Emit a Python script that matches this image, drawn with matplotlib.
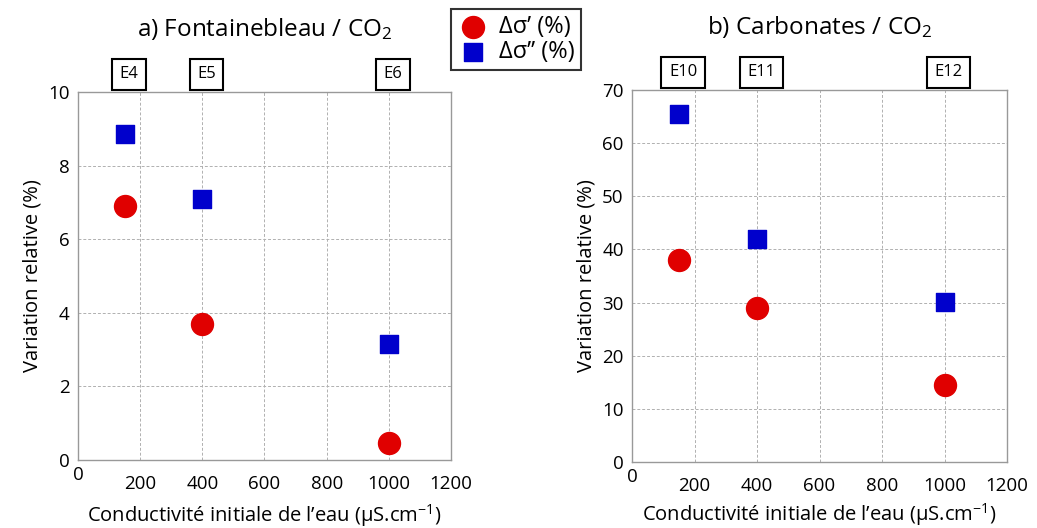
import matplotlib
matplotlib.use("Agg")
import matplotlib.pyplot as plt
import matplotlib.transforms as mtransforms

plt.rcParams['font.family'] = ['Open Sans', 'DejaVu Sans']
plt.rcParams['mathtext.fontset'] = 'custom'
plt.rcParams['mathtext.rm'] = 'Open Sans'
plt.rcParams['mathtext.it'] = 'Open Sans:italic'

# données
conductivite = [150, 400, 1000]
font_dsig1 = [6.9, 3.7, 0.45]
font_dsig2 = [8.85, 7.1, 3.15]
carb_dsig1 = [38.0, 29.0, 14.4]
carb_dsig2 = [65.5, 42.0, 30.2]
font_labels = ["E4", "E5", "E6"]
carb_labels = ["E10", "E11", "E12"]

red = '#E00000'
blue = '#0000CC'
grid_c = '#b0b0b0'

fig = plt.figure(figsize=(10.37, 5.28), dpi=100)
ax1 = fig.add_axes([0.0752, 0.1288, 0.3597, 0.697])
ax2 = fig.add_axes([0.6095, 0.125, 0.3616, 0.7045])


def style_axis(ax, ymax, ystep, title, labels, xpad):
    ax.set_xlim(0, 1200)
    ax.set_ylim(0, ymax)
    ax.set_xticks(range(0, 1201, 200))
    ax.set_xticklabels([''] + [str(v) for v in range(200, 1201, 200)])
    ax.set_yticks(range(0, ymax + 1, ystep))
    ax.tick_params(length=0, labelsize=13.5, pad=6)
    ax.tick_params(axis='x', pad=11)
    ax.grid(True, color=grid_c, linestyle=(0, (3, 2)), linewidth=0.7)
    ax.set_axisbelow(True)
    for s in ax.spines.values():
        s.set_color('#999999')
        s.set_linewidth(1.0)
    ax.set_xlabel("Conductivité initiale de l’eau (µS.cm$^{-1}$)", fontsize=14.5, labelpad=xpad)
    ax.set_ylabel("Variation relative (%)", fontsize=14.5, labelpad=4)
    ax.set_title(title, fontsize=17.5, pad=40)
    # "0" de l'axe x décalé comme sur l'original
    ax.annotate('0', xy=(0, 0), xycoords='axes fraction', xytext=(0, -4),
                textcoords='offset points', ha='center', va='top', fontsize=13.5)
    trans = mtransforms.blended_transform_factory(ax.transData, ax.transAxes)
    for x, lab in zip(conductivite, labels):
        ax.annotate(lab, xy=(x, 1.0), xycoords=trans, xytext=(3, 7),
                    textcoords='offset points', ha='center', va='bottom',
                    fontsize=12, annotation_clip=False,
                    bbox=dict(boxstyle='square,pad=0.45', fc='white', ec='black', lw=1.5))


style_axis(ax1, 10, 2, "a) Fontainebleau / CO$_2$", font_labels, 6)
style_axis(ax2, 70, 10, "b) Carbonates / CO$_2$", carb_labels, 4)

ax1.scatter(conductivite, font_dsig1, s=250, marker='o', color=red, zorder=3, clip_on=False)
ax1.scatter(conductivite, font_dsig2, s=150, marker='s', color=blue, zorder=3, clip_on=False)
h1 = ax2.scatter(conductivite, carb_dsig1, s=250, marker='o', color=red, zorder=3, clip_on=False)
h2 = ax2.scatter(conductivite, carb_dsig2, s=150, marker='s', color=blue, zorder=3, clip_on=False)

leg = fig.legend([h1, h2], ["Δσ’ (%)", "Δσ’’ (%)"], loc='upper left',
                 bbox_to_anchor=(451 / 1037, 1 - 9 / 528), fontsize=17,
                 frameon=True, fancybox=False, edgecolor='black',
                 handletextpad=0.4, borderpad=0.25, labelspacing=0.05,
                 handlelength=1.4, scatterpoints=1, borderaxespad=0)
leg.get_frame().set_linewidth(1.5)

fig.savefig("out.png", dpi=100)
